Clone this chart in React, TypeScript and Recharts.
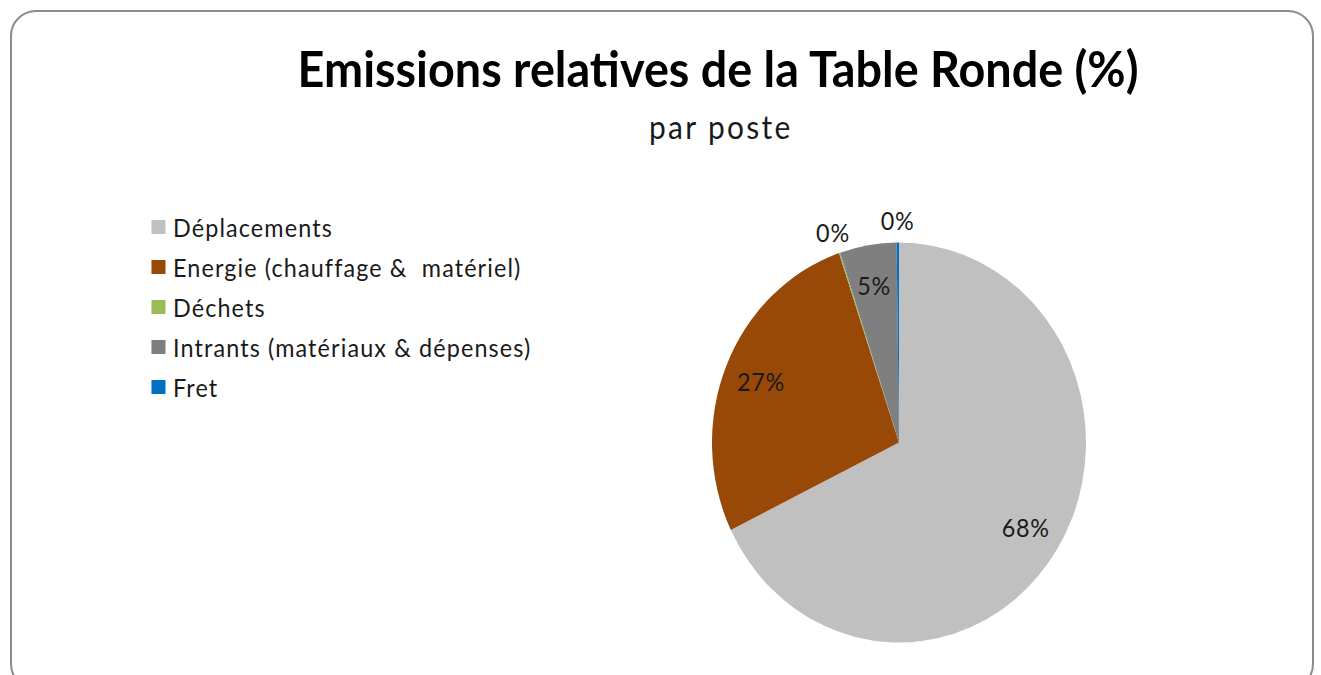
import React from "react"
import { PieChart, Pie, Cell, Legend } from "recharts"

const categories = [
  "Déplacements",
  "Energie (chauffage &  matériel)",
  "Déchets",
  "Intrants (matériaux & dépenses)",
  "Fret",
]
const shares = [67.8, 27.0, 0.1, 4.9, 0.2]
const COLORS = ["#C0C0C0", "#984807", "#9BBB59", "#7F7F7F", "#0070C0"]

const TITLE = "Emissions relatives de la Table Ronde (%)"
const SUBTITLE = "par poste"

const data = categories.map((name, i) => ({ name, value: shares[i] }))

// source image is squeezed horizontally, so the whole chart is drawn wide then scaled
const SX = 0.935
const W = Math.round(1321 / SX)
const H = 675
const FONT = "Lato, 'Open Sans', sans-serif"

const RAD = Math.PI / 180

function renderLabel(props: any) {
  const { cx, cy, midAngle, outerRadius, percent } = props
  const small = percent < 0.01
  const r = small ? outerRadius * 1.11 : outerRadius * 0.8
  const x = cx + r * Math.cos(-midAngle * RAD)
  const y = cy + r * Math.sin(-midAngle * RAD)
  return (
    <text
      x={x}
      y={y}
      fill="#1a1a1a"
      fontSize={25}
      letterSpacing={0.8}
      fontFamily={FONT}
      textAnchor="middle"
      dominantBaseline="central"
    >
      {Math.round(percent * 100) + "%"}
    </text>
  )
}

function LegendList(props: any) {
  const { payload } = props
  return (
    <ul style={{ listStyle: "none", margin: 0, padding: 0 }}>
      {payload.map((entry: any, i: number) => (
        <li
          key={i}
          style={{
            display: "flex",
            alignItems: "center",
            height: 40,
            fontFamily: FONT,
            fontSize: 25,
            letterSpacing: 1.2,
            color: "#1a1a1a",
            whiteSpace: "pre",
          }}
        >
          <span
            style={{
              display: "inline-block",
              width: 15,
              height: 14,
              background: entry.color,
              marginRight: 8,
            }}
          />
          {entry.value}
        </li>
      ))}
    </ul>
  )
}

export default function App() {
  return (
    <div
      style={{
        position: "absolute",
        left: 0,
        top: 0,
        width: 1321,
        height: 675,
        overflow: "hidden",
        background: "#fff",
      }}
    >
      <div
        style={{
          position: "absolute",
          left: 10,
          top: 10,
          width: 1304,
          height: 680,
          border: "2px solid #8c8c8c",
          borderRadius: 26,
          boxSizing: "border-box",
        }}
      />
      <div
        style={{
          position: "absolute",
          left: 0,
          top: 0,
          width: W,
          height: H,
          transform: `scaleX(${SX})`,
          transformOrigin: "0 0",
        }}
      >
        <div
          style={{
            position: "absolute",
            left: 0,
            width: 2 * 768,
            top: 38,
            textAlign: "center",
            fontFamily: FONT,
            fontWeight: 700,
            fontSize: 50,
            color: "#000",
            lineHeight: "60px",
          }}
        >
          {TITLE}
        </div>
        <div
          style={{
            position: "absolute",
            left: 0,
            width: 2 * 768 + 6,
            top: 109,
            textAlign: "center",
            fontFamily: FONT,
            fontSize: 32,
            letterSpacing: 2.5,
            color: "#1a1a1a",
            lineHeight: "36px",
          }}
        >
          {SUBTITLE}
        </div>
        <PieChart width={W} height={H}>
          <Legend
            layout="vertical"
            align="center"
            verticalAlign="middle"
            itemSorter={(item: any) => categories.indexOf(item.value)}
            content={<LegendList />}
            wrapperStyle={{ left: 162, top: 207, width: 520 }}
          />
          <Pie
            data={data}
            dataKey="value"
            nameKey="name"
            cx={956.5}
            cy={437.5}
            outerRadius={200}
            startAngle={90}
            endAngle={-270}
            stroke="none"
            label={renderLabel}
            labelLine={false}
            isAnimationActive={false}
          >
            {data.map((_, i) => (
              <Cell key={i} fill={COLORS[i]} />
            ))}
          </Pie>
        </PieChart>
      </div>
    </div>
  )
}
